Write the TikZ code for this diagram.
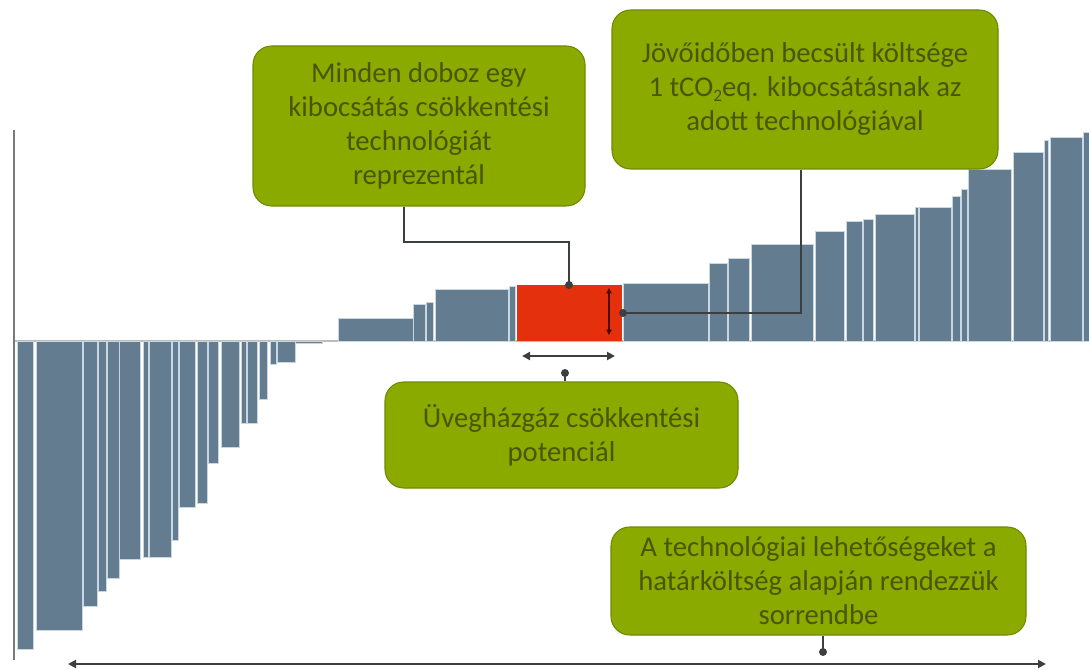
\documentclass[tikz,border=0pt]{standalone}
\usepackage{fontspec}
\setmainfont{Carlito}
\usetikzlibrary{arrows.meta}
\definecolor{barcol}{HTML}{637C90}
\definecolor{barsep}{HTML}{C9D7E2}
\definecolor{redcol}{HTML}{E5300E}
\definecolor{gfill}{HTML}{8BAA00}
\definecolor{gborder}{HTML}{6E8A00}
\definecolor{gtext}{HTML}{475700}
\definecolor{cdark}{HTML}{3C3F42}
\definecolor{axiscol}{HTML}{7A7A7A}
\tikzset{
  barst/.style={fill=barcol, draw=barsep, line width=0.7pt},
  gbox/.style={draw=gborder, fill=gfill, rounded corners=14pt, line width=0.8pt,
    text=gtext, align=center, inner sep=0pt, font=\fontsize{21.5}{25.5}\selectfont},
  conn/.style={draw=cdark, line width=1.5pt},
  dblarrow/.style={conn, {Triangle[length=6pt,width=6pt]}-{Triangle[length=6pt,width=6pt]}},
  dotst/.style={fill=cdark, draw=none}
}
\begin{document}
\begin{tikzpicture}[x=0.75pt,y=-0.75pt]
\useasboundingbox (0,0) rectangle (1089,670);
% axes
\draw[axiscol!50, line width=0.8pt] (14,341) -- (1089,341);
% negative bars
\foreach \a/\b/\c in {17/33/649, 36/82/630, 83/97/606, 98/106/591, 107/119/578,
  119/140/559, 143/148/557, 149/171/557, 172/178/540, 179/195/507, 197/207/503,
  208/218/463, 221/239/447, 241/246/423, 247/257/423, 259/267/399, 270/276/364,
  277/295/362, 295/322/343}
  \filldraw[barst] (\a,341) rectangle (\b,\c);
% positive bars
\foreach \a/\b/\c in {338/413/318, 413/425/304, 426/433/302, 435/508/289, 509/515/286,
  623/708/283, 709/727/263, 728/749/258, 751/813/244, 815/844/231, 846/862/221,
  863/873/219, 875/914/214, 915/918/207, 919/951/207, 952/960/196, 961/967/189,
  968/1011/169, 1013/1043/152, 1044/1048/140, 1050/1082/137, 1083/1089/132}
  \filldraw[barst] (\a,341) rectangle (\b,\c);
% highlighted box
\fill[redcol] (517,285) rectangle (622,341);
\draw[axiscol, line width=1.8pt] (14,130) -- (14,660);
% coordinates
\coordinate (redtop) at (569,285);
\coordinate (redright) at (623,313);
\coordinate (k1) at (404,242);
\coordinate (k2) at (801,313);
\coordinate (ht) at (609,288);
\coordinate (hb) at (609,335);
\coordinate (pa) at (522,356);
\coordinate (pb) at (615,356);
\coordinate (d3) at (565,373);
\coordinate (xa) at (68,664);
\coordinate (xb) at (1046,664);
\coordinate (d4) at (823,652);
% boxes
\node[gbox, minimum width=249pt, minimum height=120pt] (box1) at (419,126)
  {Minden doboz egy\\kibocsátás csökkentési\\technológiát\\reprezentál};
\node[gbox, minimum width=289.5pt, minimum height=119.25pt] (box2) at (805,89.5)
  {Jövőidőben becsült költsége\\1 tCO\raisebox{-0.35ex}{\fontsize{13}{13}\selectfont 2}eq. kibocsátásnak az\\adott technológiával};
\node[gbox, minimum width=264.75pt, minimum height=79.5pt] (box3) at (561.5,435)
  {Üvegházgáz csökkentési\\potenciál};
\node[gbox, minimum width=311.25pt, minimum height=81pt] (box4) at (818.5,581)
  {A technológiai lehetőségeket a\\határköltség alapján rendezzük\\sorrendbe};
% connectors
\draw[conn] (box1.south -| k1) -- (k1) -| (redtop);
\fill[dotst] (redtop) circle (3pt);
\draw[conn] (box2.south -| k2) -- (k2) -- (redright);
\fill[dotst] (redright) circle (3pt);
\draw[conn, draw=red!30!black, line width=1.2pt, {Triangle[length=4pt,width=4pt]}-{Triangle[length=4pt,width=4pt]}] (ht) -- (hb);
\draw[dblarrow] (pa) -- (pb);
\draw[conn] (d3) -- (box3.north -| d3);
\fill[dotst] (d3) circle (3pt);
\draw[dblarrow] (xa) -- (xb);
\draw[conn] (box4.south -| d4) -- (d4);
\fill[dotst] (d4) circle (3pt);
\end{tikzpicture}
\end{document}
